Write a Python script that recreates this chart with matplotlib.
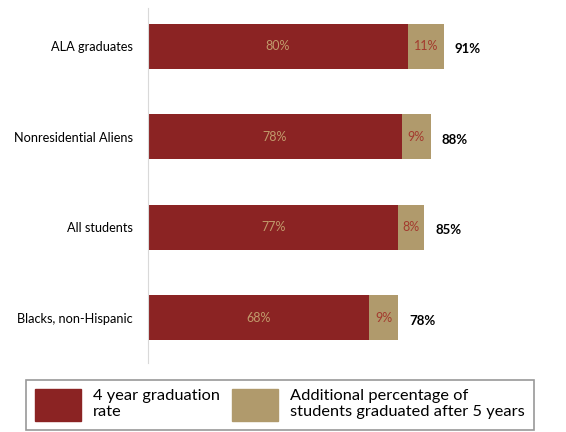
import matplotlib.pyplot as plt
from matplotlib.patches import Patch

# data (top to bottom)
groups = ['ALA graduates', 'Nonresidential Aliens', 'All students', 'Blacks, non-Hispanic']
four_year = [80, 78, 77, 68]
additional = [11, 9, 8, 9]
totals = [91, 88, 85, 78]

RED = '#8B2323'
TAN = '#B09A6C'

plt.rcParams['font.family'] = ['Lato', 'DejaVu Sans']

W, H = 566, 432
fig = plt.figure(figsize=(W / 100, H / 100), dpi=100)
ax = fig.add_axes([148 / W, 1 - 363 / H, 418 / W, 355 / H])

ypos = list(range(len(groups)))[::-1]
ax.barh(ypos, four_year, height=0.5, color=RED)
ax.barh(ypos, additional, left=four_year, height=0.5, color=TAN)

for y, a, b, t in zip(ypos, four_year, additional, totals):
    ax.text(a / 2, y, f'{a}%', ha='center', va='center', color='#C19A6B', fontsize=9)
    ax.text(a + b / 2, y, f'{b}%', ha='center', va='center', color='#A33A2E', fontsize=9)
    ax.annotate(f'{t}%', xy=(a + b, y), xytext=(8, -2), textcoords='offset points',
                ha='left', va='center', fontsize=9.5, fontweight='bold', color='black')

ax.set_xlim(0, 418 / 3.25)
ax.set_ylim(-0.5, 3.425)
ax.set_yticks(ypos, labels=groups, fontsize=9.2)
ax.set_xticks([])
ax.tick_params(axis='y', length=0, pad=11)
for side in ['top', 'right', 'bottom']:
    ax.spines[side].set_visible(False)
ax.spines['left'].set_color('#D9D9D9')

handles = [Patch(color=RED), Patch(color=TAN)]
labels = ['4 year graduation\nrate', 'Additional percentage of\nstudents graduated after 5 years']
leg = fig.legend(handles, labels, loc='upper left', ncol=2,
                 bbox_to_anchor=(26 / W, 1 - 380 / H), fontsize=11.8,
                 frameon=True, fancybox=False, edgecolor='#7F7F7F',
                 handlelength=2.8, handleheight=2.6, handletextpad=0.75,
                 columnspacing=0.7, borderpad=0.55, borderaxespad=0,
                 labelspacing=0.2)
leg.get_frame().set_linewidth(1.2)

fig.savefig('out.png', dpi=100)
